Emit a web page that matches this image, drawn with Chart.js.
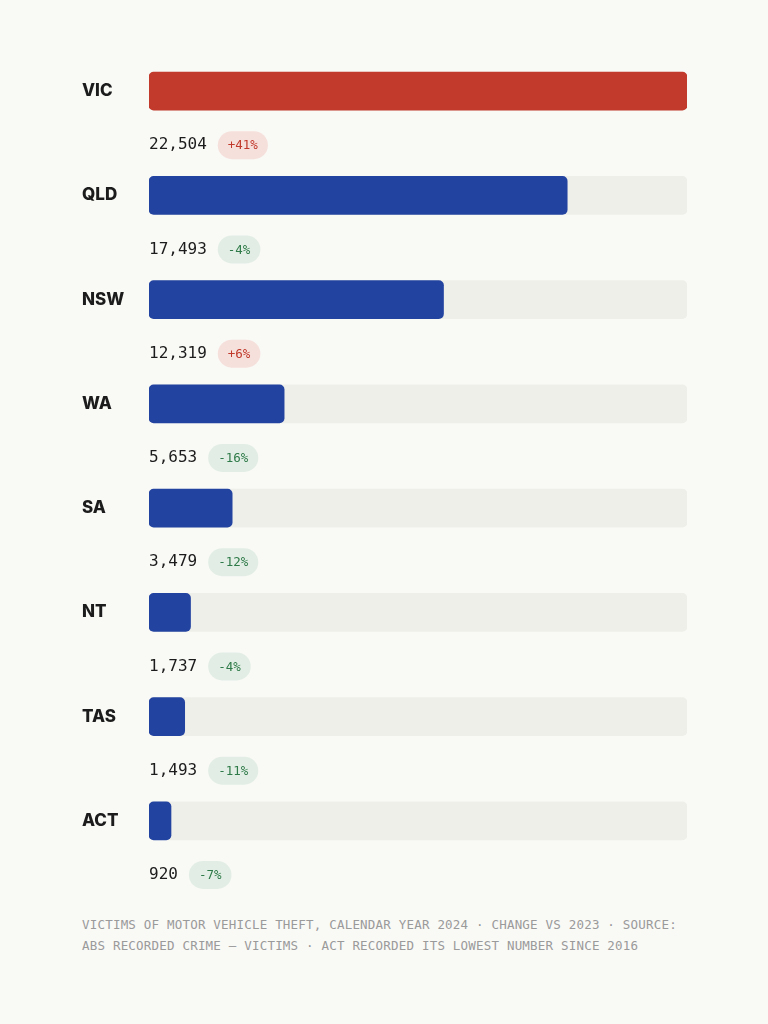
<!DOCTYPE html>
<html>
<head>
<meta charset="utf-8">
<script src="https://cdn.jsdelivr.net/npm/chart.js@4"></script>
<style>
  body { margin: 0; background: #f9f9f6; width: 768px; height: 1024px; overflow: hidden; }
  #wrap { position: absolute; left: 0; top: 0; width: 768px; height: 900px; }
  #note { position: absolute; left: 82px; top: 914px; width: 600px; font: 12.5px/21px "DejaVu Sans Mono", monospace;
          color: #9a9a9a; letter-spacing: 0.2px; }
</style>
</head>
<body>
<div id="wrap"><canvas id="grafico"></canvas></div>
<div id="note">VICTIMS OF MOTOR VEHICLE THEFT, CALENDAR YEAR 2024 · CHANGE VS 2023 · SOURCE: ABS RECORDED CRIME — VICTIMS · ACT RECORDED ITS LOWEST NUMBER SINCE 2016</div>
<script>
const estados = ['VIC', 'QLD', 'NSW', 'WA', 'SA', 'NT', 'TAS', 'ACT'];
const vitimas = [22504, 17493, 12319, 5653, 3479, 1737, 1493, 920];
const variacao = [41, -4, 6, -16, -12, -4, -11, -7];

const maximo = 22504;
const cores = estados.map((e, i) => i === 0 ? '#c13a2c' : '#2343a0');

// rotulos, valores e pilulas
const rotulos = {
  id: 'rotulos',
  afterDatasetsDraw(chart) {
    const ctx = chart.ctx;
    const meta = chart.getDatasetMeta(1);
    ctx.save();
    meta.data.forEach((bar, i) => {
      const y = bar.y;
      ctx.fillStyle = '#1c1c1c';
      ctx.font = '800 17px Inter, sans-serif';
      ctx.textBaseline = 'middle';
      ctx.textAlign = 'left';
      ctx.fillText(estados[i], 82, y);

      const yv = y + 54;
      ctx.font = '16px "DejaVu Sans Mono", monospace';
      const txt = vitimas[i].toLocaleString('en-US');
      ctx.fillText(txt, 149, yv);
      const w = ctx.measureText(txt).width;

      const pct = (variacao[i] > 0 ? '+' : '') + variacao[i] + '%';
      ctx.font = '12.5px "DejaVu Sans Mono", monospace';
      const pw = ctx.measureText(pct).width + 20;
      const px = 149 + w + 11;
      ctx.fillStyle = variacao[i] > 0 ? '#f6e0dc' : '#e2eee5';
      ctx.beginPath();
      ctx.roundRect(px, yv - 14, pw, 28, 14);
      ctx.fill();
      ctx.fillStyle = variacao[i] > 0 ? '#c0392b' : '#2e7a48';
      ctx.textAlign = 'center';
      ctx.fillText(pct, px + pw / 2, yv + 1);
    });
    ctx.restore();
  }
};

new Chart(document.getElementById('grafico').getContext('2d'), {
  type: 'bar',
  data: {
    labels: estados,
    datasets: [
      { data: estados.map(() => maximo), backgroundColor: '#efefe9', borderRadius: 5, borderSkipped: false, grouped: false, barThickness: 38, order: 2 },
      { data: vitimas, backgroundColor: cores, borderRadius: 5, borderSkipped: false, grouped: false, barThickness: 38, order: 1 }
    ]
  },
  options: {
    indexAxis: 'y',
    responsive: true,
    maintainAspectRatio: false,
    animation: false,
    layout: { padding: { left: 149, right: 81, top: 39, bottom: 27 } },
    plugins: { legend: { display: false }, tooltip: { enabled: false } },
    scales: {
      x: { display: false, min: 0, max: maximo },
      y: { display: false }
    }
  },
  plugins: [rotulos]
});
</script>
</body>
</html>
